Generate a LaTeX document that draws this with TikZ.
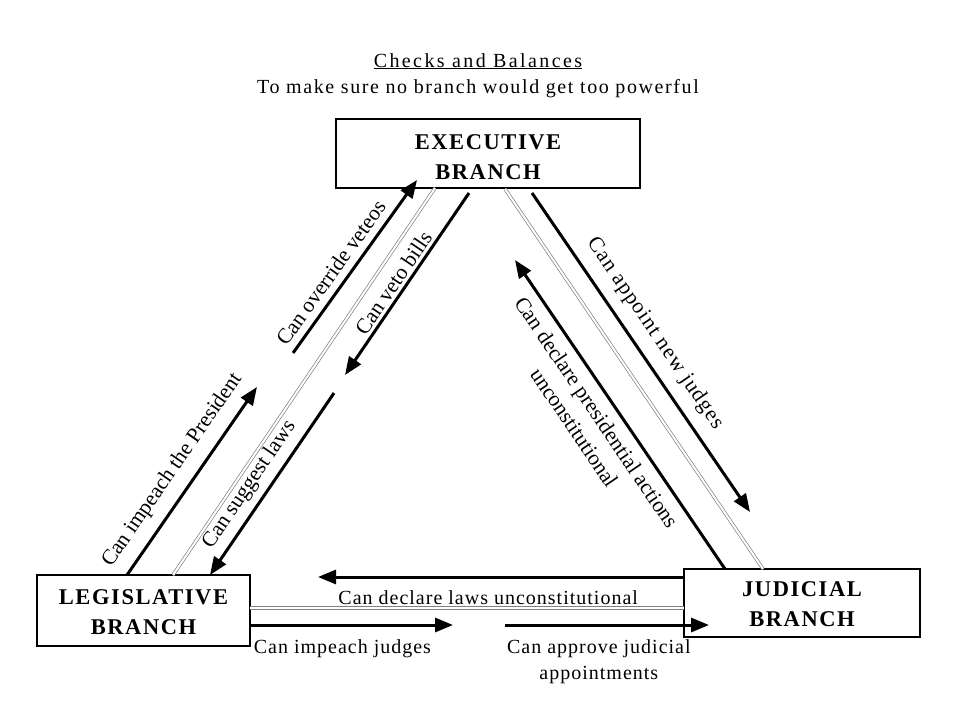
\documentclass[tikz,border=0pt]{standalone}
\usepackage{fontspec}
\setmainfont{Liberation Serif}
\usetikzlibrary{arrows.meta}
\usetikzlibrary{positioning}

\tikzset{
  branch/.style={draw, line width=2pt, inner sep=0pt, align=center,
    font=\fontsize{22.5}{30}\selectfont\bfseries\addfontfeature{LetterSpace=7}},
  check/.style={line width=3pt, -{Triangle[length=18pt,width=14pt]}},
  tie/.style={draw=gray, double, line width=0.7pt, double distance=2pt},
  slant/.style={sloped, inner sep=1pt, align=center,
    font=\fontsize{21.5}{27}\selectfont},
  flat/.style={inner sep=1pt, align=center,
    font=\fontsize{20}{26}\selectfont\addfontfeature{LetterSpace=5}}
}

\begin{document}
\begin{tikzpicture}[x=1pt, y=-1pt]

    \useasboundingbox (0,0) rectangle (960,720);

    % Define nodes
    \node[anchor=base, font=\fontsize{20}{24}\selectfont\addfontfeature{LetterSpace=12}] (title) at (478,67) {\underline{Checks and Balances}};
    \node[anchor=base, font=\fontsize{20}{24}\selectfont\addfontfeature{LetterSpace=8}] (subtitle) at ([yshift=-26pt]title.base) {To make sure no branch would get too powerful};
    \node[branch, minimum width=304pt, minimum height=69pt, text height=53pt] (exec) at (488,153.5) {EXECUTIVE\\BRANCH};
    \node[branch, minimum width=213pt, minimum height=71pt, text height=49pt] (legis) at (143.5,610.5) {LEGISLATIVE\\BRANCH};
    \node[branch, minimum width=236pt, minimum height=68pt, text height=48pt] (judic) at (802,603) {JUDICIAL\\BRANCH};

    % Free ends of the arrows
    \coordinate (ovr0) at (293,353);   \coordinate (ovr1) at (417,180);
    \coordinate (veto0) at (469,193);  \coordinate (veto1) at (345,375);
    \coordinate (imp0) at (127,575);   \coordinate (imp1) at (257,387);
    \coordinate (sug0) at (334,393);   \coordinate (sug1) at (210,575);
    \coordinate (app0) at (532,193);   \coordinate (app1) at (750,512);
    \coordinate (dec0) at (725,569);   \coordinate (dec1) at (515,260);
    \coordinate (law0) at (684,577);   \coordinate (law1) at (318,577);
    \coordinate (jud0) at (250,625);   \coordinate (jud1) at (453,625);
    \coordinate (apv0) at (505,625);   \coordinate (apv1) at (709,625);

    % Connect the branches
    \draw[tie] (435,188) -- (173,575);
    \draw[tie] (505,189) -- (763,569);
    \draw[tie] (250,608) -- (684,608);

    % Checks
    \draw[check] (ovr0) -- node[slant, above=6pt, pos=0.41] {Can override veteos} (ovr1);
    \draw[check] (veto0) -- node[slant, above=2pt, pos=0.53] {Can veto bills} (veto1);
    \draw[check] (imp0) -- node[slant, above=10pt, pos=0.49] {Can impeach the President} (imp1);
    \draw[check] (sug0) -- node[slant, above=6pt, pos=0.56] {Can suggest laws} (sug1);
    \draw[check] (app0) -- node[slant, above=10pt, pos=0.48, font=\fontsize{21.5}{27}\selectfont\addfontfeature{LetterSpace=5}] {Can appoint new judges} (app1);
    \draw[check] (dec0) -- node[slant, below=8pt, pos=0.54] {Can declare presidential actions\\unconstitutional} (dec1);
    \draw[check] (law0) -- node[flat, below=11pt, pos=0.535] {Can declare laws unconstitutional} (law1);
    \draw[check] (jud0) -- node[flat, below=12pt, pos=0.455] {Can impeach judges} (jud1);
    \draw[check] (apv0) -- node[flat, below=12pt, pos=0.46] {Can approve judicial\\appointments} (apv1);

\end{tikzpicture}
\end{document}
